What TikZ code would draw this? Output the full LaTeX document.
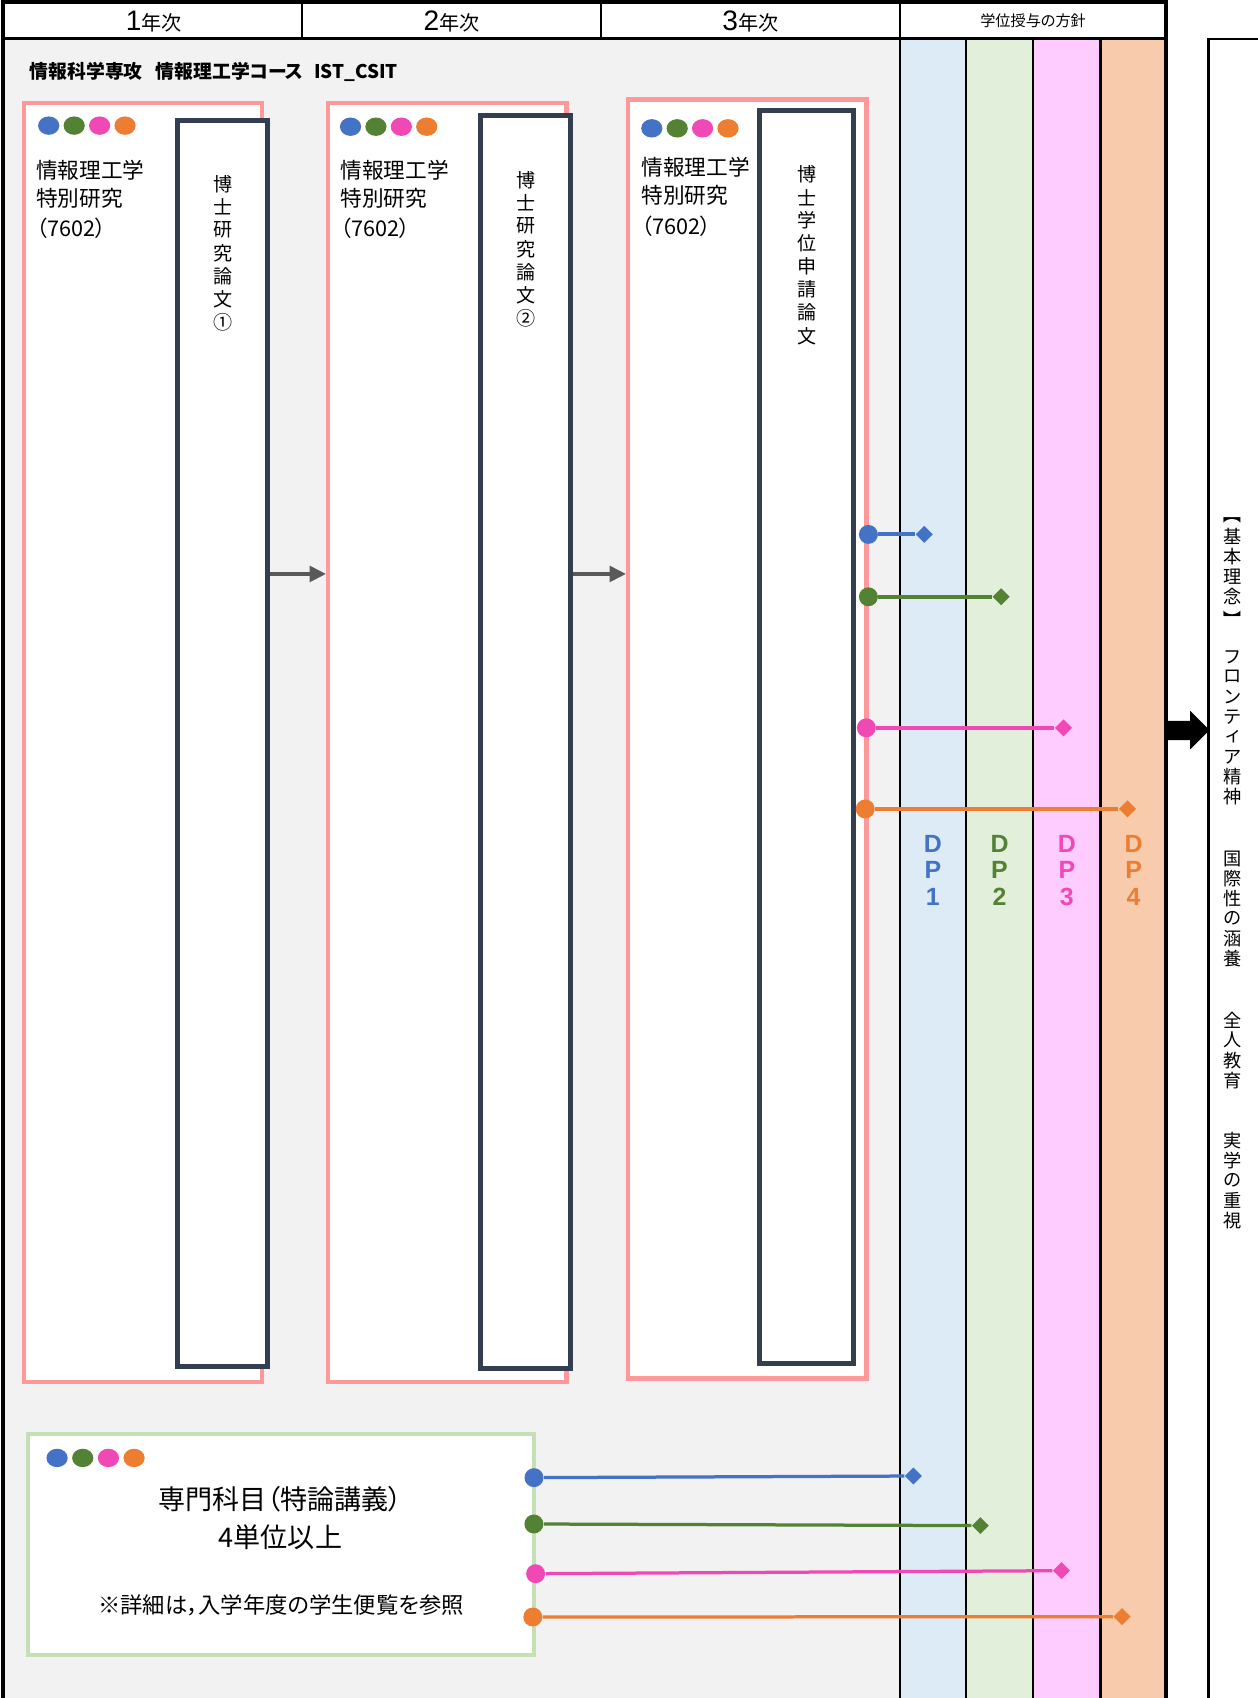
\documentclass[tikz,border=0pt]{standalone}
\usepackage{fontspec}
\setmainfont{Noto Sans CJK JP}[RawFeature=+palt]
\newfontfamily\arialf{Liberation Sans}
\usetikzlibrary{shapes.geometric,arrows.meta}
\definecolor{bgray}{HTML}{F2F2F2}
\definecolor{pinkline}{HTML}{FF9999}
\definecolor{darkline}{HTML}{333F50}
\definecolor{cblue}{HTML}{4472C4}
\definecolor{cgreen}{HTML}{548235}
\definecolor{cpink}{HTML}{F048B4}
\definecolor{corange}{HTML}{ED7D31}
\definecolor{dpa}{HTML}{DDEBF7}
\definecolor{dpb}{HTML}{E2EFDA}
\definecolor{dpc}{HTML}{FFCCFF}
\definecolor{dpd}{HTML}{F8CBAD}
\definecolor{greenline}{HTML}{C5E0B4}
\definecolor{arrgray}{HTML}{595959}
\tikzset{
  pinkbox/.style={draw=pinkline, line width=2pt, fill=white, inner sep=0, minimum width=110pt, minimum height=590.5pt},
  darkbox/.style={draw=darkline, line width=2.4pt, fill=white, inner sep=0},
  greenbox/.style={draw=greenline, line width=2pt, fill=white, inner sep=0, minimum width=233.5pt, minimum height=102pt},
  startdot/.style={circle, fill=#1, inner sep=0, minimum size=8.75pt},
  enddia/.style={diamond, fill=#1, inner sep=0, minimum width=8pt, minimum height=8pt},
  conn/.style={draw=#1, line width=1.8pt},
  connlow/.style={draw=#1, line width=1.5pt},
  vch/.style={inner sep=0, font=\fontsize{8.8}{8.8}\selectfont},
  rch/.style={inner sep=0, font=\fontsize{8.4}{8.4}\selectfont},
  dplabel/.style={inner sep=0, font=\arialf\bfseries\fontsize{11.5}{11.5}\selectfont},
  boxtext/.style={anchor=west, inner sep=0, font=\fontsize{10}{10}\selectfont},
  yeararrow/.style={draw=arrgray, line width=1.5pt, -{Triangle[length=7.5pt,width=7.25pt]}},
  blackline/.style={draw=black, line width=1.2pt},
}
\newcommand\vcol[6]{\foreach \vchar [count=\i from 0] in {#6} {\node[#1] (#2\i) at (#3,{#4+\i*#5}) {\vchar};}}
\newcommand\fourdots[3]{\foreach \k/\dcol in {0/cblue,1/cgreen,2/cpink,3/corange} {\fill[\dcol] ({#1+\k*#2},#3) ellipse [x radius=4.9pt, y radius=4.25pt];}}
\begin{document}
\begin{tikzpicture}[x=0.5pt,y=-0.5pt]
\useasboundingbox (0,0) rectangle (1161,1568);
% backgrounds
\fill[bgray] (3,36) rectangle (831,1620);
\fill[dpa] (831,36) rectangle (892,1620);
\fill[dpb] (892,36) rectangle (954,1620);
\fill[dpc] (954,36) rectangle (1016,1620);
\fill[dpd] (1016,36) rectangle (1077,1620);
% lines of the table
\draw[blackline] (279,2) -- (279,36);
\draw[blackline] (555,2) -- (555,36);
\draw[blackline] (831,2) -- (831,1620);
\draw[blackline] (892,36) -- (892,1620);
\draw[blackline] (954,36) -- (954,1620);
\draw[blackline] (1016,36) -- (1016,1620);
\draw[line width=1.4pt] (3,36) -- (1077,36);
\draw[line width=1.7pt] (3,1620) -- (3,2) -- (1077,2) -- (1077,1620);
% right box
\draw[line width=1.1pt] (1200,36) -- (1116,36) -- (1116,1620);
% header texts
\node (h1) at (142,20) {{\arialf\fontsize{13}{14}\selectfont 1}{\fontsize{9.3}{10}\selectfont 年次}};
\node (h2) at (417,20) {{\arialf\fontsize{13}{14}\selectfont 2}{\fontsize{9.3}{10}\selectfont 年次}};
\node (h3) at (693,20) {{\arialf\fontsize{13}{14}\selectfont 3}{\fontsize{9.3}{10}\selectfont 年次}};
\node (h4) at (954,19) {\fontsize{7}{8}\selectfont 学位授与の方針};
% title
\node[anchor=west, inner sep=0] (title) at (27,66) {\bfseries\fontsize{8.7}{9}\selectfont 情報科学専攻\hspace{6pt}情報理工学コース\hspace{5pt}IST\_CSIT};
% year arrows
\coordinate (ay) at (0,530);
% boxes
\node[pinkbox] (p1) at (132,685.5) {};
\node[pinkbox] (p2) at (413,685.5) {};
\node[pinkbox] (p3) at (690,682.5) {};
\node[darkbox, minimum width=41.5pt, minimum height=575.5pt] (k1) at (205.5,686.5) {};
\node[darkbox, minimum width=41.5pt, minimum height=578.5pt] (k2) at (485.5,685.5) {};
\node[darkbox, minimum width=43.5pt, minimum height=578.5pt] (k3) at (744.5,680.5) {};
\draw[yeararrow] (k1.east |- ay) -- (p2.west |- ay);
\draw[yeararrow] (k2.east |- ay) -- (p3.west |- ay);
% dots
\fourdots{45}{23.5}{116}
\fourdots{323.7}{23.45}{117}
\fourdots{601.9}{23.45}{118.5}
% box texts
\node[boxtext] (t1a) at (33,157) {情報理工学};
\node[boxtext] (t1b) at (33,183.2) {特別研究};
\node[boxtext] (t1c) at (33,210.9) {（7602）};
\node[boxtext] (t2a) at (314,157) {情報理工学};
\node[boxtext] (t2b) at (314,183.2) {特別研究};
\node[boxtext] (t2c) at (314,210.9) {（7602）};
\node[boxtext] (t3a) at (592,154) {情報理工学};
\node[boxtext] (t3b) at (592,180.5) {特別研究};
\node[boxtext] (t3c) at (592,209.2) {（7602）};
\vcol{vch}{va}{206}{170}{21.3}{博,士,研,究,論,文,①}
\vcol{vch}{vb}{486}{166}{21.3}{博,士,研,究,論,文,②}
\vcol{vch}{vc}{745}{161}{21.3}{博,士,学,位,申,請,論,文}
% green box
\node[greenbox] (g) at (259.5,1426) {};
\fourdots{52.7}{23.7}{1346.3}
\node[inner sep=0, font=\fontsize{12.5}{12.5}\selectfont] (g1) at (259,1384.8) {専門科目（特論講義）};
\node[inner sep=0, font=\fontsize{12.5}{12.5}\selectfont] (g2) at (259,1419.3) {4単位以上};
\node[inner sep=0, font=\fontsize{10.3}{10.3}\selectfont] (g3) at (259.5,1482.4) {※詳細は，入学年度の学生便覧を参照};
% DP labels
\foreach \n/\xx/\col in {1/861.4/cblue,2/923/cgreen,3/985.2/cpink,4/1046.8/corange} {
  \node[dplabel, text=\col] (dp\n a) at (\xx,778.9) {D};
  \node[dplabel, text=\col] (dp\n b) at (\xx,802.9) {P};
  \node[dplabel, text=\col] (dp\n c) at (\xx,828.2) {\n};
}
% upper connectors
\node[startdot=cblue] (s1) at (801.9,493.5) {};
\node[enddia=cblue] (e1) at (853.5,493.5) {};
\node[startdot=cgreen] (s2) at (801.9,551.1) {};
\node[enddia=cgreen] (e2) at (924.5,551.1) {};
\node[startdot=cpink] (s3) at (800,672.1) {};
\node[enddia=cpink] (e3) at (982.1,672.1) {};
\node[startdot=corange] (s4) at (799,747) {};
\node[enddia=corange] (e4) at (1041.2,747) {};
\draw[conn=cblue] (s1) -- (e1);
\draw[conn=cgreen] (s2) -- (e2);
\draw[conn=cpink] (s3) -- (e3);
\draw[conn=corange] (s4) -- (e4);
% lower connectors
\node[startdot=cblue] (u1) at (493.1,1364.5) {};
\node[enddia=cblue] (f1) at (843.5,1363) {};
\node[startdot=cgreen] (u2) at (493,1407.3) {};
\node[enddia=cgreen] (f2) at (905.3,1408.8) {};
\node[startdot=cpink] (u3) at (494.6,1453.2) {};
\node[enddia=cpink] (f3) at (980.2,1450.4) {};
\node[startdot=corange] (u4) at (492,1493.2) {};
\node[enddia=corange] (f4) at (1036.1,1492.9) {};
\draw[connlow=cblue] (u1) -- (f1);
\draw[connlow=cgreen] (u2) -- (f2);
\draw[connlow=cpink] (u3) -- (f3);
\draw[connlow=corange] (u4) -- (f4);
% big arrow to the basic philosophy
\fill[black] (1077.6,665.6) -- (1099,665.6) -- (1099,656.4) -- (1117,674.2) -- (1099,692) -- (1099,683.5) -- (1077.6,683.5) -- cycle;
% right vertical text
\node[rch, rotate=-90] (rbo) at (1138,479) {【};
\vcol{rch}{ra}{1138}{495.5}{18.5}{基,本,理,念}
\node[rch, rotate=-90] (rbc) at (1138,568) {】};
\vcol{rch}{rb}{1138}{606.5}{18.5}{フ,ロ,ン,テ,ィ,ア,精,神}
\vcol{rch}{rc}{1138}{792.8}{18.5}{国,際,性,の,涵,養}
\vcol{rch}{rd}{1138}{942}{18.5}{全,人,教,育}
\vcol{rch}{re}{1138}{1053}{18.5}{実,学,の,重,視}
\end{tikzpicture}
\end{document}
